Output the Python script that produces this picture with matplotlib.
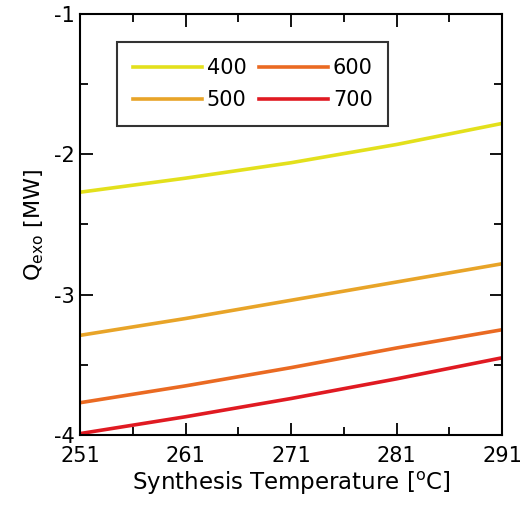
import matplotlib
matplotlib.use("Agg")
import matplotlib.pyplot as plt
from matplotlib.ticker import MultipleLocator

plt.rcParams['axes.unicode_minus'] = False

# synthesis temperature [C]
temps = [251, 261, 271, 281, 291]

# Q_exo [MW] for each case
q_400 = [-2.27, -2.17, -2.06, -1.93, -1.78]
q_500 = [-3.29, -3.17, -3.04, -2.91, -2.78]
q_600 = [-3.77, -3.65, -3.52, -3.38, -3.25]
q_700 = [-3.99, -3.87, -3.74, -3.60, -3.45]

labels = ["400", "500", "600", "700"]
colors = ["#e3e01c", "#e8a428", "#ea6a22", "#e01a22"]

fig = plt.figure(figsize=(5.21, 5.12), dpi=100)
ax = fig.add_axes([0.1536, 0.1504, 0.81, 0.8223])

for ys, lab, c in zip([q_400, q_500, q_600, q_700], labels, colors):
    ax.plot(temps, ys, color=c, lw=2.6, label=lab)

ax.set_xlim(251, 291)
ax.set_ylim(-4, -1)
ax.yaxis.set_major_locator(MultipleLocator(1))
ax.yaxis.set_minor_locator(MultipleLocator(0.5))
ax.set_xticks([251, 261, 271, 281, 291])
ax.set_xticks([256, 266, 276, 286], minor=True)
ax.tick_params(which="both", direction="in", top=True, right=True,
               labelsize=15, width=1.3)
ax.tick_params(which="major", length=9)
ax.tick_params(which="minor", length=6)
ax.tick_params(axis="x", pad=8)
for s in ax.spines.values():
    s.set_linewidth(1.5)

ax.set_xlabel("Synthesis Temperature [$^{\\mathrm{o}}$C]", fontsize=16.5, labelpad=3)
ax.set_ylabel("Q$_{\\mathrm{exo}}$ [MW]", fontsize=16, labelpad=6)

leg = ax.legend(ncol=2, loc="upper left", bbox_to_anchor=(0.088, 0.933),
                borderaxespad=0, fontsize=15, frameon=True, fancybox=False,
                edgecolor="black", handlelength=3.3, handletextpad=0.25,
                columnspacing=0.6, labelspacing=0.6, borderpad=0.75)
leg.get_frame().set_linewidth(1.5)

fig.savefig("out.png", dpi=100)
